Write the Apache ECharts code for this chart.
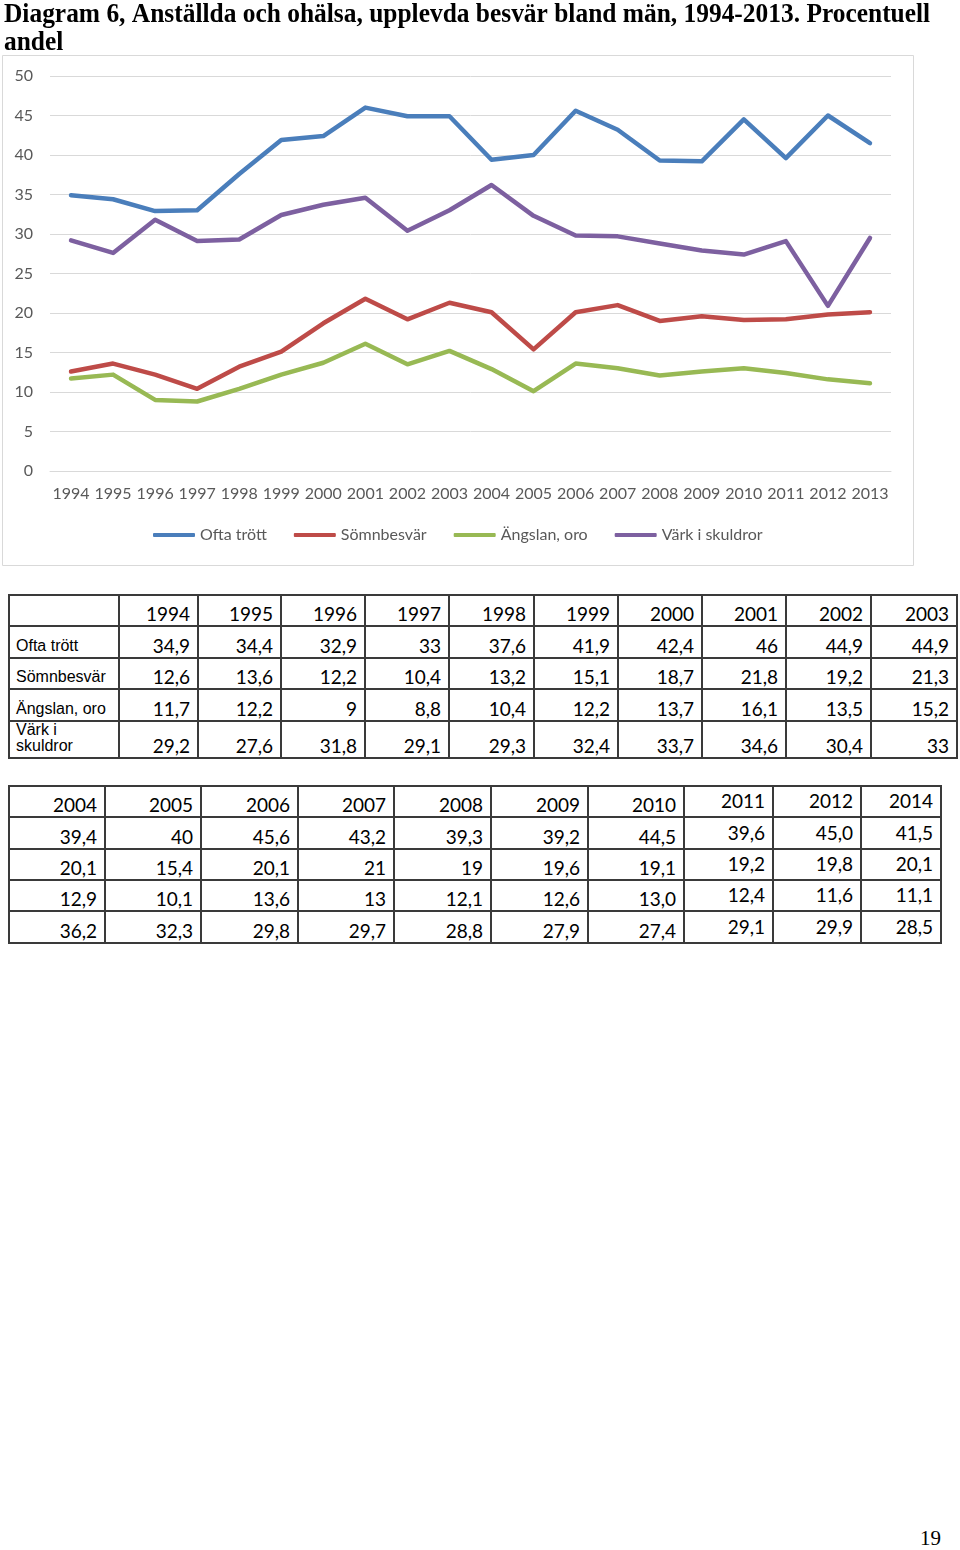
<!DOCTYPE html>
<html>
<head>
<meta charset="utf-8">
<script src="https://cdn.jsdelivr.net/npm/echarts@6/dist/echarts.min.js"></script>
<style>
  html, body { margin: 0; padding: 0; background: #fff; }
  body { width: 960px; height: 1550px; position: relative; overflow: hidden; }
  #chart { position: absolute; left: 0; top: 0; width: 960px; height: 580px; }
  table.dt { position: absolute; border-collapse: collapse; table-layout: fixed; font-family: Lato, "Liberation Sans", sans-serif; font-size: 19px; color: #000; }
  table.dt td { border: 2px solid #3a3a3a; padding: 0 7px 2px 4px; text-align: right; vertical-align: bottom; line-height: 1; white-space: nowrap; overflow: hidden; }
  table.dt td.lab { text-align: left; font-family: "Liberation Sans", Arial, sans-serif; font-size: 16px; white-space: pre-line; line-height: 16px; padding-left: 6px; padding-bottom: 3px; }
  table.dt td.hi { padding-bottom: 6px; }
  #pageno { position: absolute; left: 920px; top: 1526px; font-family: "Liberation Serif", serif; font-size: 21px; color: #000; }
</style>
</head>
<body>
<div id="chart"></div>
<div id="pageno">19</div>
<script>
// ---- chart data ----
var years = ['1994','1995','1996','1997','1998','1999','2000','2001','2002','2003',
             '2004','2005','2006','2007','2008','2009','2010','2011','2012','2013'];
var seriesNames = ['Ofta trött', 'Sömnbesvär', 'Ängslan, oro', 'Värk i skuldror'];
var oftaTrott  = [34.9,34.4,32.9,33,37.6,41.9,42.4,46,44.9,44.9,39.4,40,45.6,43.2,39.3,39.2,44.5,39.6,45.0,41.5];
var somnbesvar = [12.6,13.6,12.2,10.4,13.2,15.1,18.7,21.8,19.2,21.3,20.1,15.4,20.1,21,19,19.6,19.1,19.2,19.8,20.1];
var angslanOro = [11.7,12.2,9,8.8,10.4,12.2,13.7,16.1,13.5,15.2,12.9,10.1,13.6,13,12.1,12.6,13.0,12.4,11.6,11.1];
var varkSkuldror = [29.2,27.6,31.8,29.1,29.3,32.4,33.7,34.6,30.4,33,36.2,32.3,29.8,29.7,28.8,27.9,27.4,29.1,20.9,29.5];
var yTicks = { min: 0, max: 50, interval: 5 };

// ---- table data (as printed) ----
var rowLabels = ['Ofta trött', 'Sömnbesvär', 'Ängslan, oro', 'Värk i\nskuldror'];
var table1Years = ['1994','1995','1996','1997','1998','1999','2000','2001','2002','2003'];
var table1Ofta  = ['34,9','34,4','32,9','33','37,6','41,9','42,4','46','44,9','44,9'];
var table1Somn  = ['12,6','13,6','12,2','10,4','13,2','15,1','18,7','21,8','19,2','21,3'];
var table1Angs  = ['11,7','12,2','9','8,8','10,4','12,2','13,7','16,1','13,5','15,2'];
var table1Vark  = ['29,2','27,6','31,8','29,1','29,3','32,4','33,7','34,6','30,4','33'];
var table2Years = ['2004','2005','2006','2007','2008','2009','2010','2011','2012','2014'];
var table2Ofta  = ['39,4','40','45,6','43,2','39,3','39,2','44,5','39,6','45,0','41,5'];
var table2Somn  = ['20,1','15,4','20,1','21','19','19,6','19,1','19,2','19,8','20,1'];
var table2Angs  = ['12,9','10,1','13,6','13','12,1','12,6','13,0','12,4','11,6','11,1'];
var table2Vark  = ['36,2','32,3','29,8','29,7','28,8','27,9','27,4','29,1','29,9','28,5'];

var titleText = 'Diagram 6, Anställda och ohälsa, upplevda besvär bland män, 1994-2013. Procentuell\nandel';
var colors = ['#4a7ebb', '#be4b48', '#98b954', '#7d60a0'];

var chart = echarts.init(document.getElementById('chart'), null, { renderer: 'canvas' });
var axisFont = 'Lato, "Liberation Sans", sans-serif';
var option = {
  animation: false,
  color: colors,
  graphic: [
    { type: 'text', x: 4, y: 1, scaleX: 0.908, scaleY: 1,
      style: { text: titleText, font: 'bold 28px "Liberation Serif", serif', fill: '#000', lineHeight: 28 } },
    { type: 'rect', shape: { x: 2.5, y: 55.5, width: 911, height: 510 },
      style: { fill: 'none', stroke: '#d9d9d9', lineWidth: 1 }, z: -1 }
  ],
  grid: { left: 50, right: 69, top: 76, height: 395, containLabel: false },
  legend: {
    data: seriesNames, left: 153, top: 527, padding: 0, icon: 'roundRect', itemWidth: 42, itemHeight: 4, itemGap: 27,
    textStyle: { color: '#595959', fontSize: 16, fontFamily: axisFont }
  },
  xAxis: {
    type: 'category', data: years, boundaryGap: true,
    axisLine: { show: true, lineStyle: { color: '#d9d9d9', width: 1 } },
    axisTick: { show: false },
    axisLabel: { color: '#595959', fontSize: 16, fontFamily: axisFont, margin: 15, interval: 0 }
  },
  yAxis: {
    type: 'value', min: yTicks.min, max: yTicks.max, interval: yTicks.interval,
    axisLine: { show: false }, axisTick: { show: false },
    splitLine: { lineStyle: { color: '#d9d9d9', width: 1 } },
    axisLabel: { color: '#595959', fontSize: 16, fontFamily: axisFont, margin: 17 }
  },
  series: [oftaTrott, somnbesvar, angslanOro, varkSkuldror].map(function (d, i) {
    return { name: seriesNames[i], type: 'line', data: d, showSymbol: false, symbol: 'none',
             lineStyle: { width: 4.5, color: colors[i], cap: 'round', join: 'round' },
             itemStyle: { color: colors[i] }, emphasis: { disabled: true } };
  })
};
chart.setOption(option);

function buildTable(left, top, widths, heights, header, rows, labels, hiFrom) {
  var t = document.createElement('table');
  t.className = 'dt';
  t.style.left = left + 'px';
  t.style.top = top + 'px';
  var total = widths.reduce(function (a, b) { return a + b; }, 0);
  t.style.width = total + 'px';
  var cg = document.createElement('colgroup');
  widths.forEach(function (w) { var c = document.createElement('col'); c.style.width = w + 'px'; cg.appendChild(c); });
  t.appendChild(cg);
  var all = [header].concat(rows);
  all.forEach(function (r, ri) {
    var tr = document.createElement('tr');
    tr.style.height = heights[ri] + 'px';
    if (labels) {
      var td0 = document.createElement('td');
      td0.className = 'lab';
      td0.textContent = ri === 0 ? '' : labels[ri - 1];
      tr.appendChild(td0);
    }
    r.forEach(function (v, ci) {
      var td = document.createElement('td');
      td.textContent = v;
      if (hiFrom != null && ci >= hiFrom) td.className = 'hi';
      tr.appendChild(td);
    });
    t.appendChild(tr);
  });
  document.body.appendChild(t);
}
buildTable(8, 594, [110,79,83,84,84,85,84,84,84,85,86], [31,32,31,32,35],
  table1Years, [table1Ofta, table1Somn, table1Angs, table1Vark], rowLabels, null);
buildTable(8, 785, [96,96,97,96,97,97,96,89,88,80], [31,32,31,31,32],
  table2Years, [table2Ofta, table2Somn, table2Angs, table2Vark], null, 7);
</script>
</body>
</html>
